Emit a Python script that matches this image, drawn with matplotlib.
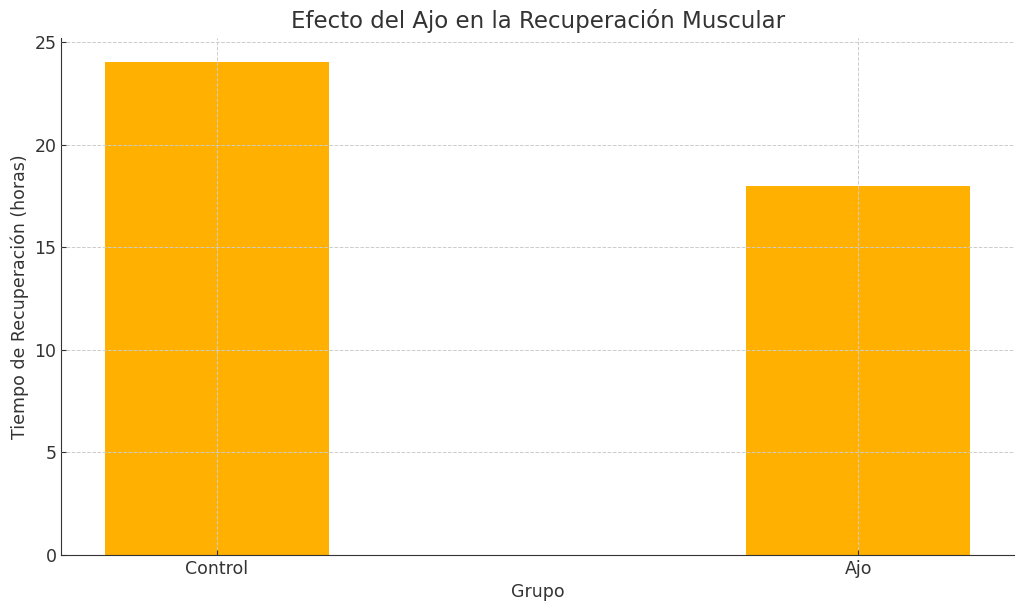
import matplotlib
matplotlib.use("Agg")
import matplotlib.pyplot as plt

# data
grupos = ["Control", "Ajo"]
tiempos = [24, 18]

plt.rcParams['font.family'] = ['DejaVu Sans']
text_col = "#333333"

fig, ax = plt.subplots(figsize=(10.24, 6.11), dpi=100)
ax.bar(grupos, tiempos, width=0.35, color="#FFB000", zorder=1)

ax.set_title("Efecto del Ajo en la Recuperación Muscular", fontsize=16.5, color=text_col, pad=7)
ax.set_xlabel("Grupo", fontsize=12.5, color=text_col)
ax.set_ylabel("Tiempo de Recuperación (horas)", fontsize=12.5, color=text_col)
ax.tick_params(labelsize=12.5, colors=text_col, direction="in")

ax.grid(True, linestyle="--", linewidth=0.7, color="#cccccc", zorder=3)
ax.set_axisbelow(False)
for s in ["top", "right"]:
    ax.spines[s].set_visible(False)
ax.spines["left"].set_color(text_col)
ax.spines["bottom"].set_color(text_col)

fig.subplots_adjust(left=0.06, right=0.99, top=0.938, bottom=0.092)
fig.savefig("out.png", dpi=100)
